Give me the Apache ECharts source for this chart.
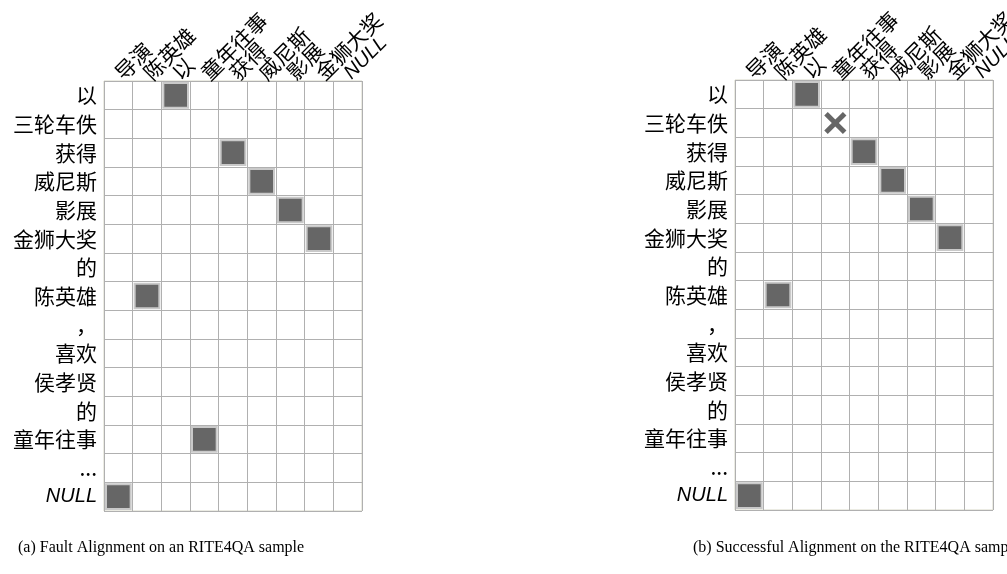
<!DOCTYPE html>
<html>
<head>
<meta charset="utf-8">
<script src="https://cdn.jsdelivr.net/npm/echarts@6/dist/echarts.min.js"></script>
<style>
html,body{margin:0;padding:0;background:#fff;}
#chart{width:1007px;height:574px;}
</style>
</head>
<body>
<div id="chart"></div>
<script>
// Categories
const rowLabels = ['以', '三轮车佚', '获得', '威尼斯', '影展', '金狮大奖', '的', '陈英雄', '，', '喜欢', '侯孝贤', '的', '童年往事', '...', 'NULL'];
const colLabels = ['导演', '陈英雄', '以', '童年往事', '获得', '威尼斯', '影展', '金狮大奖', 'NULL'];
// Alignments: [column index, row index]
const faultAlign = [[2, 0], [4, 2], [5, 3], [6, 4], [7, 5], [1, 7], [3, 12], [0, 14]];
const successAlign = [[2, 0], [4, 2], [5, 3], [6, 4], [7, 5], [1, 7], [0, 14]];
const successRejected = [[3, 1]];
// Captions
const captionA = '(a) Fault Alignment on an RITE4QA sample';
const captionB = '(b) Successful Alignment on the RITE4QA sample';

const cjk = "'Noto Sans CJK SC', 'Noto Sans', sans-serif";
const fmt = v => (v === 'NULL' ? '{n|NULL}' : v);
const rich = { n: { fontStyle: 'italic', fontFamily: "'Liberation Sans', Arial, sans-serif", fontSize: 20, color: '#000' } };

function xAx(gi) {
  return {
    type: 'category', gridIndex: gi, position: 'top', data: colLabels,
    axisLine: { show: false }, axisTick: { show: false },
    splitLine: { show: true, interval: 0, lineStyle: { color: '#b0b0b0', width: 1 } },
    axisLabel: { interval: 0, rotate: -45, margin: 5, fontSize: 21, color: '#000', fontFamily: cjk, formatter: fmt, rich: rich }
  };
}
function yAx(gi) {
  return {
    type: 'category', gridIndex: gi, inverse: true, data: rowLabels,
    axisLine: { show: false }, axisTick: { show: false },
    splitLine: { show: true, interval: 0, lineStyle: { color: '#b0b0b0', width: 1 } },
    axisLabel: { interval: 0, margin: 7, fontSize: 21, color: '#000', fontFamily: cjk, formatter: fmt, rich: rich }
  };
}
function cellRender(params, api) {
  const c = api.coord([api.value(0), api.value(1)]);
  const s = api.size([1, 1]);
  const w = s[0], h = s[1];
  return {
    type: 'rect',
    shape: { x: c[0] - w / 2 + 2, y: c[1] - h / 2 + 2, width: w - 4, height: h - 4 },
    style: { fill: '#666666', stroke: '#c9c9c9', lineWidth: 2 }
  };
}
function crossRender(params, api) {
  const c = api.coord([api.value(0), api.value(1)]);
  const s = api.size([1, 1]);
  const hw = s[0] / 2 - 5, hh = s[1] / 2 - 5;
  return {
    type: 'group',
    children: [
      { type: 'line', shape: { x1: c[0] - hw, y1: c[1] - hh, x2: c[0] + hw, y2: c[1] + hh }, style: { stroke: '#666666', lineWidth: 5 } },
      { type: 'line', shape: { x1: c[0] - hw, y1: c[1] + hh, x2: c[0] + hw, y2: c[1] - hh }, style: { stroke: '#666666', lineWidth: 5 } }
    ]
  };
}

const chart = echarts.init(document.getElementById('chart'), null, { renderer: 'canvas' });
chart.setOption({
  animation: false,
  backgroundColor: '#fff',
  grid: [
    { left: 104, top: 81, width: 258, height: 430, show: true, borderColor: '#d6d6c6', borderWidth: 1, backgroundColor: '#fff', containLabel: false, outerBoundsMode: 'none' },
    { left: 735, top: 80, width: 258, height: 430, show: true, borderColor: '#d6d6c6', borderWidth: 1, backgroundColor: '#fff', containLabel: false, outerBoundsMode: 'none' }
  ],
  xAxis: [xAx(0), xAx(1)],
  yAxis: [yAx(0), yAx(1)],
  series: [
    { type: 'custom', xAxisIndex: 0, yAxisIndex: 0, data: faultAlign, renderItem: cellRender },
    { type: 'custom', xAxisIndex: 1, yAxisIndex: 1, data: successAlign, renderItem: cellRender },
    { type: 'custom', xAxisIndex: 1, yAxisIndex: 1, data: successRejected, renderItem: crossRender }
  ],
  graphic: [
    { type: 'text', left: 18, top: 540, style: { text: captionA, fontSize: 16, fontFamily: "'Liberation Serif', 'DejaVu Serif', serif", fill: '#000' } },
    { type: 'text', left: 693, top: 540, style: { text: captionB, fontSize: 16, fontFamily: "'Liberation Serif', 'DejaVu Serif', serif", fill: '#000' } }
  ]
});
</script>
</body>
</html>
